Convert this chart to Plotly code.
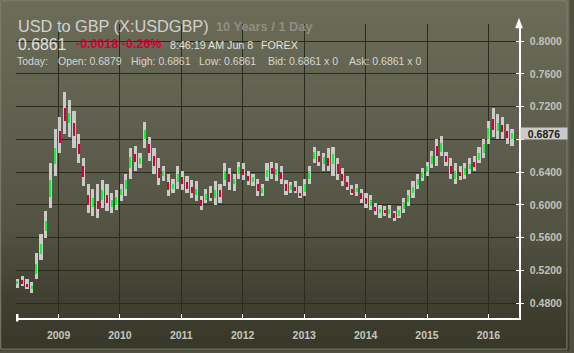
import plotly.graph_objects as go
import pandas as pd

# ---------------- data ----------------
start_date = "2008-05-02"
period_days = 28

high = [0.510, 0.513, 0.509, 0.506, 0.541, 0.565, 0.593, 0.651, 0.693, 0.707,
        0.738, 0.728, 0.715, 0.687, 0.657, 0.625, 0.620, 0.625, 0.630, 0.626,
        0.614, 0.618, 0.626, 0.638, 0.669, 0.672, 0.663, 0.701, 0.683, 0.669,
        0.657, 0.647, 0.638, 0.632, 0.647, 0.642, 0.635, 0.630, 0.629, 0.611,
        0.620, 0.623, 0.629, 0.626, 0.651, 0.645, 0.638, 0.653, 0.651, 0.641,
        0.638, 0.632, 0.626, 0.651, 0.653, 0.651, 0.647, 0.630, 0.628, 0.629,
        0.623, 0.632, 0.647, 0.671, 0.666, 0.663, 0.669, 0.671, 0.657, 0.645,
        0.635, 0.624, 0.626, 0.620, 0.614, 0.612, 0.602, 0.600, 0.599, 0.600,
        0.593, 0.599, 0.608, 0.618, 0.629, 0.638, 0.645, 0.653, 0.666, 0.681,
        0.684, 0.665, 0.657, 0.651, 0.647, 0.651, 0.657, 0.660, 0.671, 0.681,
        0.703, 0.719, 0.711, 0.707, 0.699, 0.693]
low = [0.499, 0.501, 0.497, 0.492, 0.509, 0.533, 0.560, 0.596, 0.635, 0.663,
       0.687, 0.683, 0.669, 0.651, 0.623, 0.590, 0.587, 0.584, 0.596, 0.593,
       0.590, 0.594, 0.605, 0.611, 0.632, 0.642, 0.645, 0.669, 0.654, 0.638,
       0.624, 0.629, 0.611, 0.614, 0.620, 0.618, 0.614, 0.608, 0.605, 0.594,
       0.602, 0.605, 0.600, 0.602, 0.623, 0.618, 0.617, 0.632, 0.630, 0.624,
       0.623, 0.611, 0.611, 0.629, 0.632, 0.629, 0.626, 0.612, 0.614, 0.614,
       0.608, 0.611, 0.626, 0.651, 0.648, 0.641, 0.642, 0.635, 0.630, 0.623,
       0.618, 0.612, 0.611, 0.602, 0.596, 0.594, 0.588, 0.584, 0.587, 0.584,
       0.580, 0.584, 0.590, 0.599, 0.608, 0.620, 0.629, 0.635, 0.645, 0.647,
       0.660, 0.648, 0.632, 0.626, 0.630, 0.632, 0.638, 0.642, 0.651, 0.657,
       0.675, 0.683, 0.681, 0.681, 0.675, 0.672]
open_ = [0.503, 0.508, 0.504, 0.497, 0.516, 0.540, 0.568, 0.610, 0.650, 0.690,
         0.718, 0.700, 0.700, 0.675, 0.648, 0.612, 0.598, 0.605, 0.606, 0.612,
         0.598, 0.600, 0.612, 0.620, 0.645, 0.662, 0.650, 0.680, 0.675, 0.660,
         0.645, 0.635, 0.628, 0.619, 0.628, 0.634, 0.628, 0.622, 0.612, 0.606,
         0.606, 0.615, 0.608, 0.618, 0.630, 0.638, 0.625, 0.638, 0.644, 0.635,
         0.628, 0.626, 0.615, 0.634, 0.645, 0.636, 0.640, 0.625, 0.618, 0.622,
         0.615, 0.616, 0.632, 0.656, 0.660, 0.650, 0.657, 0.650, 0.650, 0.638,
         0.628, 0.620, 0.616, 0.615, 0.608, 0.599, 0.598, 0.590, 0.594, 0.589,
         0.590, 0.587, 0.595, 0.604, 0.614, 0.624, 0.633, 0.640, 0.650, 0.672,
         0.665, 0.660, 0.648, 0.632, 0.640, 0.637, 0.644, 0.652, 0.655, 0.664,
         0.680, 0.705, 0.690, 0.698, 0.690, 0.680]
close = [0.507, 0.504, 0.500, 0.501, 0.528, 0.552, 0.580, 0.630, 0.670, 0.676,
         0.702, 0.712, 0.684, 0.662, 0.634, 0.600, 0.608, 0.595, 0.618, 0.602,
         0.606, 0.610, 0.619, 0.630, 0.658, 0.652, 0.657, 0.692, 0.664, 0.648,
         0.633, 0.641, 0.618, 0.626, 0.638, 0.625, 0.620, 0.614, 0.620, 0.599,
         0.613, 0.609, 0.618, 0.610, 0.642, 0.628, 0.632, 0.646, 0.636, 0.629,
         0.634, 0.617, 0.621, 0.643, 0.638, 0.644, 0.632, 0.617, 0.624, 0.617,
         0.611, 0.626, 0.641, 0.665, 0.653, 0.658, 0.648, 0.662, 0.638, 0.629,
         0.622, 0.615, 0.621, 0.607, 0.601, 0.606, 0.592, 0.595, 0.590, 0.595,
         0.584, 0.594, 0.603, 0.612, 0.622, 0.632, 0.640, 0.648, 0.660, 0.660,
         0.676, 0.652, 0.638, 0.642, 0.635, 0.645, 0.650, 0.646, 0.664, 0.674,
         0.694, 0.692, 0.700, 0.689, 0.682, 0.6876]

y_ticks = [0.48, 0.52, 0.56, 0.60, 0.64, 0.68, 0.72, 0.76, 0.80]
year_ticks = ["2009", "2010", "2011", "2012", "2013", "2014", "2015", "2016"]
last_price = 0.6876

title_text = "USD to GBP (X:USDGBP)"
span_text = "10 Years / 1 Day"
price_text = "0.6861"
change_text = "-0.0018 -0.26%"
time_text = "8:46:19 AM Jun 8"
market_text = "FOREX"
today_parts = ["Today:", "Open: 0.6879", "High: 0.6861", "Low: 0.6861",
               "Bid: 0.6861 x 0", "Ask: 0.6861 x 0"]

assert len(high) == len(low) == len(open_) == len(close)
dates = pd.date_range(start_date, periods=len(high), freq=f"{period_days}D")

# ---------------- layout geometry ----------------
W, H = 574, 353
L, R, T, B = 16, 49, 24, 32
PW, PH = W - L - R, H - T - B
FONT = "Liberation Sans"


def px(x):
    return (x - L) / PW


def py(y):
    return (H - B - y) / PH


DAY_MS = 86400000
wick_w = 19 * DAY_MS
body_w = 6.5 * DAY_MS

fig = go.Figure()

fig.add_trace(go.Bar(
    x=dates, y=[h - l for h, l in zip(high, low)], base=low,
    width=wick_w, marker=dict(color="#cacac6", line=dict(width=0)),
    hoverinfo="skip"))

body_base = [min(o, c) for o, c in zip(open_, close)]
body_len = [max(abs(c - o), 0.0015) for o, c in zip(open_, close)]
body_col = ["#12f03a" if c >= o else "#d0003c" for o, c in zip(open_, close)]
fig.add_trace(go.Bar(
    x=dates, y=body_len, base=body_base, width=body_w,
    marker=dict(color=body_col, line=dict(width=0)), hoverinfo="skip"))

# helper invisible trace for the inner tick axis
fig.add_trace(go.Scatter(x=[dates[0]], y=[0.6], yaxis="y2", mode="markers",
                         marker=dict(opacity=0), hoverinfo="skip"))

# ---------------- background gradient ----------------
stops = [(0, (108, 108, 89)), (150, (93, 93, 77)), (230, (83, 83, 68)),
         (300, (65, 65, 51)), (353, (56, 56, 41))]


def col_at(y):
    for (y0, c0), (y1, c1) in zip(stops[:-1], stops[1:]):
        if y0 <= y <= y1:
            t = (y - y0) / (y1 - y0)
            return "rgb(%d,%d,%d)" % tuple(round(a + (b - a) * t) for a, b in zip(c0, c1))
    return "rgb(%d,%d,%d)" % stops[-1][1]


shapes = []
N = 100
for i in range(N):
    y0 = H * i / N
    y1 = H * (i + 1) / N + 0.8
    shapes.append(dict(type="rect", xref="paper", yref="paper",
                       x0=px(-2), x1=px(W + 2), y0=py(y1), y1=py(y0),
                       fillcolor=col_at((y0 + y1) / 2), line=dict(width=0),
                       layer="below"))
# outer frame
shapes.append(dict(type="rect", xref="paper", yref="paper",
                   x0=px(0.5), x1=px(W - 0.5), y0=py(H - 0.5), y1=py(0.5),
                   line=dict(color="#807f6c", width=1), layer="above"))
# arrow on right axis
shapes.append(dict(type="path", xref="paper", yref="paper",
                   path=f"M {px(L + PW - 3.5)},{py(28)} L {px(L + PW)},{py(18.5)} L {px(L + PW + 3.5)},{py(28)} Z",
                   fillcolor="white", line=dict(color="white", width=0.5), layer="above"))
# left end marker on the date axis
shapes.append(dict(type="rect", xref="paper", yref="paper",
                   x0=px(16), x1=px(18.5), y0=py(324.5), y1=py(317),
                   fillcolor="white", line=dict(width=0), layer="above"))

# ---------------- annotations ----------------
ann = []


def text(t, x, y, size, color, bold=False):
    ann.append(dict(text=f"<b>{t}</b>" if bold else t, xref="paper", yref="paper",
                    x=px(x), y=py(y), xanchor="left", yanchor="middle",
                    showarrow=False, font=dict(family=FONT, size=size, color=color)))


text(title_text, 15.5, 26.5, 16.3, "#d2d2cc")
text(span_text, 216.5, 26.5, 12.8, "#8f8f80", bold=True)
text(price_text, 15.5, 44.5, 15.8, "#e0e0dc")
text(change_text, 74.5, 44.5, 12.5, "#d3003a", bold=True)
text(time_text, 169.5, 45.5, 10.7, "#e2e2dc")
text(market_text, 261.5, 45.5, 10.7, "#e2e2dc")
for t, x in zip(today_parts, [15, 56.5, 130, 199, 268.5, 351]):
    text(t, x, 61, 10.5, "#d6d6d0")

ann.append(dict(text=f"<b>{last_price:.4f}</b>", xref="paper", yref="y",
                x=1, y=last_price, xanchor="left", yanchor="middle", xshift=0.5,
                showarrow=False, bgcolor="#cacac8", width=44, height=9, borderpad=1,
                align="center", font=dict(family=FONT, size=10.5, color="#202018")))

# the 0.6800 label sits underneath the last-price box in the reference
y_tick_text = ["" if abs(v - 0.68) < 1e-9 else f"{v:.4f}" for v in y_ticks]

fig.update_layout(
    width=W, height=H, margin=dict(l=L, r=R, t=T, b=B, pad=0),
    paper_bgcolor="rgb(80,80,64)", plot_bgcolor="rgba(0,0,0,0)",
    barmode="overlay", bargap=0, showlegend=False,
    shapes=shapes, annotations=ann,
    xaxis=dict(type="date", range=["2008-04-23", "2016-07-01"],
               tickvals=[f"{y}-01-01" for y in year_ticks], ticktext=year_ticks,
               showgrid=True, gridcolor="#2a2a1d", gridwidth=1,
               showline=True, linecolor="white", linewidth=1.5,
               ticks="inside", ticklen=4, tickcolor="white", tickwidth=1,
               tickfont=dict(family=FONT, size=10.5, color="#c6c6be", weight="bold"),
               ticklabelstandoff=7, zeroline=False, fixedrange=True),
    yaxis=dict(range=[0.4619, 0.8210], side="right",
               tickvals=y_ticks, ticktext=y_tick_text,
               showgrid=True, gridcolor="#2a2a1d", gridwidth=1,
               showline=True, linecolor="white", linewidth=1.5,
               ticks="outside", ticklen=3, tickcolor="white", tickwidth=1,
               tickfont=dict(family=FONT, size=10.5, color="#c2c2ba", weight="bold"),
               ticklabelstandoff=4, zeroline=False, fixedrange=True),
    yaxis2=dict(range=[0.4619, 0.8210], side="right", overlaying="y", anchor="x",
                tickvals=y_ticks, showticklabels=False, showgrid=False,
                showline=False, ticks="inside", ticklen=3, tickcolor="white",
                zeroline=False, fixedrange=True),
)

fig.write_html("out.html")
